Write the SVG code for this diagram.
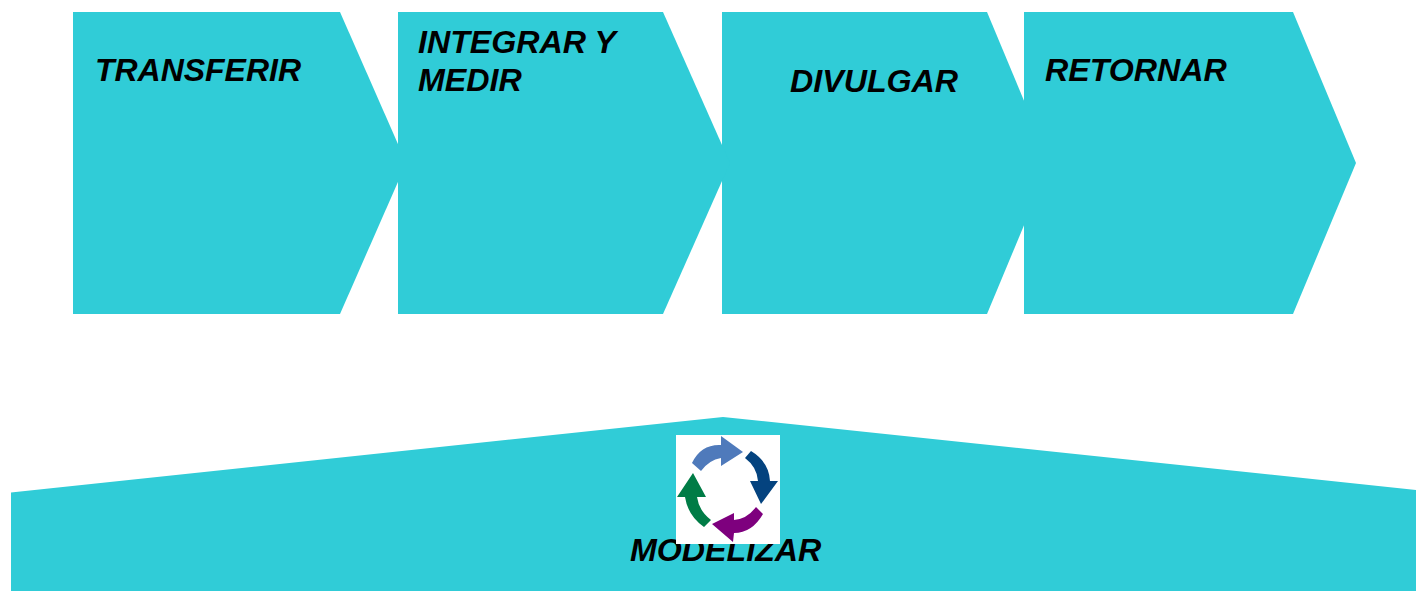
<svg xmlns="http://www.w3.org/2000/svg" width="1416" height="591" viewBox="0 0 1416 591">
<style>
.s{fill:#30ccd7}
.t{font-family:"Liberation Sans",Arial,sans-serif;font-weight:bold;font-style:italic;font-size:32.2px;fill:#000}
</style>
<rect width="1416" height="591" fill="#fff"/>
<g id="node-transferir"><polygon class="s" points="73,12 340,12 406.3,163 340,314 73,314"/><text class="t" x="95" y="81" textLength="206" lengthAdjust="spacingAndGlyphs">TRANSFERIR</text></g>
<g id="node-divulgar"><polygon class="s" points="722,12 987,12 1050,163 987,314 722,314"/><text class="t" x="790" y="92">DIVULGAR</text></g>
<g id="node-integrar"><polygon class="s" points="398,12 663,12 730,163 663,314 398,314"/><text class="t" x="418" y="53">INTEGRAR Y</text><text class="t" x="418" y="91">MEDIR</text></g>
<g id="node-retornar"><polygon class="s" points="1024,12 1293,12 1356,163 1293,314 1024,314"/><text class="t" x="1045" y="81">RETORNAR</text></g>
<g id="node-modelizar"><polygon class="s" points="11,492.5 723,417 1416,490 1416,591 11,591"/>
<text class="t" x="630" y="561">MODELIZAR</text>
<rect x="676" y="435" width="104" height="109" fill="#fff"/>
<path fill="#4f7abb" d="M692,463 Q701,444 721,445 L721,436 L743,452 L721,466 L721,458 Q709,460 701,471 Z"/>
<path fill="#04437f" d="M751,451 Q769,462 770,481 L778,481 L761,504 L750,481 L758,481 Q757,467 745,458 Z"/>
<path fill="#7e007e" d="M763,514 Q752,533 734,533 L733,542 L712,524 L734,513 L734,520 Q747,519 756,507 Z"/>
<path fill="#007c46" d="M704,527 Q688,516 685,497 L677,497 L693,473 L706,497 L697,497 Q699,511 711,520 Z"/>
</g>
<g id="connectors"></g>
</svg>
